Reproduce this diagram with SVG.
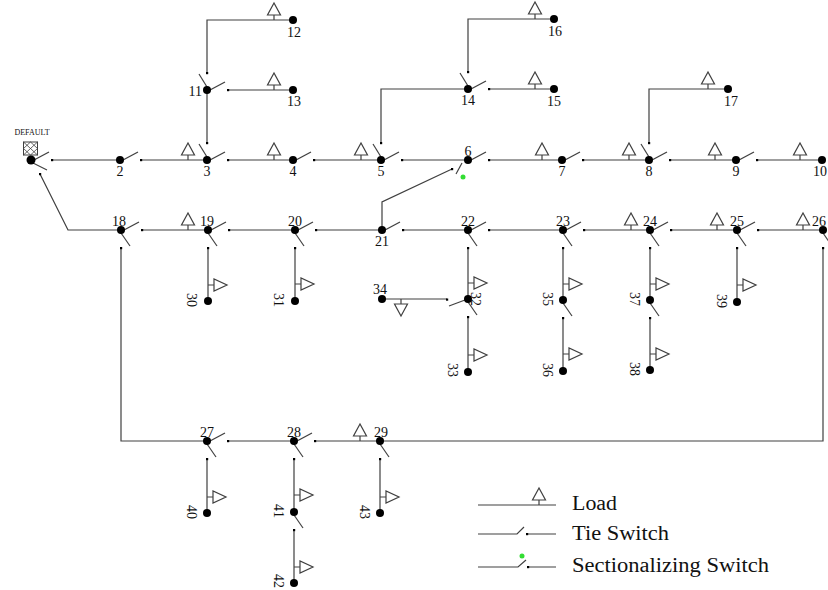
<svg xmlns="http://www.w3.org/2000/svg" xmlns:xlink="http://www.w3.org/1999/xlink" width="828" height="590" viewBox="0 0 828 590">
<style>
.ln{fill:none;stroke:#404040;stroke-width:1.2}
.nd{fill:#000}
.t{font-family:"Liberation Serif","Times New Roman",serif;font-size:14px;fill:#111}
.c{text-anchor:middle}
.lg{font-family:"Liberation Serif","Times New Roman",serif;font-size:20px;fill:#111}
</style>
<defs>
<g id="ldU"><path class="ln" d="M0 0V-5M-6.5 -5H6.5L0 -17Z" fill="#fff"/></g>
<g id="ldR"><path class="ln" d="M0 0H6M6 -6V6L19 0Z" fill="#fff"/></g>
<g id="ldD"><path class="ln" d="M0 0V5M-6.5 5H6.5L0 17Z" fill="#fff"/></g>
<g id="swR"><path class="ln" d="M3 0L18 -8"/><rect x="20" y="-1" width="2.2" height="2.2" fill="#000"/></g>
<g id="swU"><path class="ln" d="M0 -3L-8 -16"/><rect x="-1" y="-18" width="2.2" height="2.2" fill="#000"/></g>
<g id="swD"><path class="ln" d="M0 3L9 16"/><rect x="-1" y="17" width="2.2" height="2.2" fill="#000"/></g>
<g id="swL"><path class="ln" d="M-3 1L-19 7"/><rect x="-22" y="-0.5" width="2.2" height="2.2" fill="#000"/></g>
</defs>

<g id="connectors">
<path class="ln" d="M52 160H120M141 160H207M228 160H293M314 160H381M402 160H468M489 160H562M583 160H649M670 160H736M757 160H822"/>
<path class="ln" d="M207 143V90M207 73V20H293M228 90H293"/>
<path class="ln" d="M381 143V89H468M468 72V19H554M489 89H554"/>
<path class="ln" d="M649 143V89H728"/>
<path class="ln" d="M40 174L68 230H121"/>
<path class="ln" d="M142 230H208M229 230H295M316 230H382M403 230H468M489 230H563M584 230H650M671 230H737M758 230H823"/>
<path class="ln" d="M382 230V202L452 169"/>
<rect x="451" y="168" width="2.2" height="2.2" fill="#000"/>
<path class="ln" d="M121 248V441H207M228 441H294M315 441H823V248"/>
<path class="ln" d="M208 248V301M295 248V301"/>
<path class="ln" d="M468 248V299M468 317V372M382 299H447"/>
<path class="ln" d="M563 248V300M563 318V371M650 248V300M650 318V370M737 248V302"/>
<path class="ln" d="M207 459V513M294 459V512M294 530V583M380 459V513"/>
</g>

<g id="switches">
<use xlink:href="#swR" x="31" y="160"/>
<use xlink:href="#swR" x="120" y="160"/>
<use xlink:href="#swR" x="207" y="160"/>
<use xlink:href="#swR" x="293" y="160"/>
<use xlink:href="#swR" x="381" y="160"/>
<use xlink:href="#swR" x="468" y="160"/>
<use xlink:href="#swR" x="562" y="160"/>
<use xlink:href="#swR" x="649" y="160"/>
<use xlink:href="#swR" x="736" y="160"/>
<use xlink:href="#swR" x="207" y="90"/>
<use xlink:href="#swR" x="468" y="89"/>
<use xlink:href="#swR" x="121" y="230"/>
<use xlink:href="#swR" x="208" y="230"/>
<use xlink:href="#swR" x="295" y="230"/>
<use xlink:href="#swR" x="382" y="230"/>
<use xlink:href="#swR" x="468" y="230"/>
<use xlink:href="#swR" x="563" y="230"/>
<use xlink:href="#swR" x="650" y="230"/>
<use xlink:href="#swR" x="737" y="230"/>
<use xlink:href="#swR" x="207" y="441"/>
<use xlink:href="#swR" x="294" y="441"/>
<use xlink:href="#swU" x="207" y="160"/>
<use xlink:href="#swU" x="207" y="90"/>
<use xlink:href="#swU" x="381" y="160"/>
<use xlink:href="#swU" x="468" y="89"/>
<use xlink:href="#swU" x="649" y="160"/>
<use xlink:href="#swD" x="121" y="230"/>
<use xlink:href="#swD" x="208" y="230"/>
<use xlink:href="#swD" x="295" y="230"/>
<use xlink:href="#swD" x="468" y="230"/>
<use xlink:href="#swD" x="563" y="230"/>
<use xlink:href="#swD" x="650" y="230"/>
<use xlink:href="#swD" x="737" y="230"/>
<use xlink:href="#swD" x="823" y="230"/>
<use xlink:href="#swD" x="468" y="299"/>
<use xlink:href="#swD" x="563" y="300"/>
<use xlink:href="#swD" x="650" y="300"/>
<use xlink:href="#swD" x="207" y="441"/>
<use xlink:href="#swD" x="294" y="441"/>
<use xlink:href="#swD" x="380" y="441"/>
<use xlink:href="#swD" x="294" y="512"/>
<use xlink:href="#swL" x="468" y="299"/>
<path class="ln" d="M33 163L47 170"/>
<rect x="39" y="173" width="2.2" height="2.2" fill="#000"/>
<path class="ln" d="M456 174L462 163"/>
<circle cx="463" cy="177" r="2.5" fill="#33dd33"/>
</g>

<g id="loads">
<use xlink:href="#ldU" x="188" y="160"/>
<use xlink:href="#ldU" x="274" y="160"/>
<use xlink:href="#ldU" x="361" y="160"/>
<use xlink:href="#ldU" x="542" y="160"/>
<use xlink:href="#ldU" x="629" y="160"/>
<use xlink:href="#ldU" x="715" y="160"/>
<use xlink:href="#ldU" x="800" y="160"/>
<use xlink:href="#ldU" x="274" y="20"/>
<use xlink:href="#ldU" x="274" y="90"/>
<use xlink:href="#ldU" x="535" y="19"/>
<use xlink:href="#ldU" x="535" y="89"/>
<use xlink:href="#ldU" x="708" y="89"/>
<use xlink:href="#ldU" x="188" y="230"/>
<use xlink:href="#ldU" x="631" y="230"/>
<use xlink:href="#ldU" x="717" y="230"/>
<use xlink:href="#ldU" x="803" y="230"/>
<use xlink:href="#ldU" x="360" y="441"/>
<use xlink:href="#ldR" x="208" y="285"/>
<use xlink:href="#ldR" x="295" y="284"/>
<use xlink:href="#ldR" x="468" y="283"/>
<use xlink:href="#ldR" x="468" y="355"/>
<use xlink:href="#ldR" x="563" y="284"/>
<use xlink:href="#ldR" x="563" y="354"/>
<use xlink:href="#ldR" x="650" y="284"/>
<use xlink:href="#ldR" x="650" y="354"/>
<use xlink:href="#ldR" x="737" y="285"/>
<use xlink:href="#ldR" x="207" y="497"/>
<use xlink:href="#ldR" x="294" y="495"/>
<use xlink:href="#ldR" x="294" y="567"/>
<use xlink:href="#ldR" x="380" y="497"/>
<use xlink:href="#ldD" x="401" y="299"/>
</g>

<g id="node-default">
<text x="32" y="135" text-anchor="middle" style="font-family:'Liberation Serif',serif;font-size:8px;fill:#111">DEFAULT</text>
<rect x="23.5" y="142" width="14" height="13" fill="#fff" stroke="#404040" stroke-width="1"/>
<path d="M23.5 142L37.5 155M37.5 142L23.5 155M23.5 148.5L30.5 142L37.5 148.5L30.5 155Z" fill="none" stroke="#404040" stroke-width="0.8"/>
<circle class="nd" cx="31" cy="160" r="4.5"/>
</g>
<g id="node-2"><circle class="nd" cx="120" cy="160" r="4"/><text class="t c" x="120" y="176">2</text></g>
<g id="node-3"><circle class="nd" cx="207" cy="160" r="4"/><text class="t c" x="207" y="176">3</text></g>
<g id="node-4"><circle class="nd" cx="293" cy="160" r="4"/><text class="t c" x="293" y="176">4</text></g>
<g id="node-5"><circle class="nd" cx="381" cy="160" r="4"/><text class="t c" x="381" y="176">5</text></g>
<g id="node-6"><circle class="nd" cx="468" cy="160" r="4"/><text class="t c" x="468" y="156">6</text></g>
<g id="node-7"><circle class="nd" cx="562" cy="160" r="4"/><text class="t c" x="562" y="176">7</text></g>
<g id="node-8"><circle class="nd" cx="649" cy="160" r="4"/><text class="t c" x="649" y="176">8</text></g>
<g id="node-9"><circle class="nd" cx="736" cy="160" r="4"/><text class="t c" x="736" y="176">9</text></g>
<g id="node-10"><circle class="nd" cx="822" cy="160" r="4"/><text class="t c" x="820" y="176">10</text></g>
<g id="node-11"><circle class="nd" cx="207" cy="90" r="4"/><text class="t" x="202" y="96" text-anchor="end">11</text></g>
<g id="node-12"><circle class="nd" cx="293" cy="20" r="4"/><text class="t c" x="294" y="37">12</text></g>
<g id="node-13"><circle class="nd" cx="293" cy="90" r="4"/><text class="t c" x="294" y="106">13</text></g>
<g id="node-14"><circle class="nd" cx="468" cy="89" r="4"/><text class="t c" x="468" y="105">14</text></g>
<g id="node-15"><circle class="nd" cx="554" cy="89" r="4"/><text class="t c" x="554" y="106">15</text></g>
<g id="node-16"><circle class="nd" cx="554" cy="19" r="4"/><text class="t c" x="555" y="36">16</text></g>
<g id="node-17"><circle class="nd" cx="728" cy="89" r="4"/><text class="t c" x="731" y="106">17</text></g>
<g id="node-18"><circle class="nd" cx="121" cy="230" r="4"/><text class="t c" x="119" y="226">18</text></g>
<g id="node-19"><circle class="nd" cx="208" cy="230" r="4"/><text class="t c" x="207" y="226">19</text></g>
<g id="node-20"><circle class="nd" cx="295" cy="230" r="4"/><text class="t c" x="295" y="226">20</text></g>
<g id="node-21"><circle class="nd" cx="382" cy="230" r="4"/><text class="t c" x="382" y="246">21</text></g>
<g id="node-22"><circle class="nd" cx="468" cy="230" r="4"/><text class="t c" x="468" y="226">22</text></g>
<g id="node-23"><circle class="nd" cx="563" cy="230" r="4"/><text class="t c" x="563" y="226">23</text></g>
<g id="node-24"><circle class="nd" cx="650" cy="230" r="4"/><text class="t c" x="650" y="226">24</text></g>
<g id="node-25"><circle class="nd" cx="737" cy="230" r="4"/><text class="t c" x="737" y="226">25</text></g>
<g id="node-26"><circle class="nd" cx="823" cy="230" r="4"/><text class="t c" x="819" y="226">26</text></g>
<g id="node-27"><circle class="nd" cx="207" cy="441" r="4"/><text class="t c" x="207" y="437">27</text></g>
<g id="node-28"><circle class="nd" cx="294" cy="441" r="4"/><text class="t c" x="294" y="437">28</text></g>
<g id="node-29"><circle class="nd" cx="380" cy="441" r="4"/><text class="t c" x="381" y="437">29</text></g>
<g id="node-30"><circle class="nd" cx="208" cy="301" r="4"/><text class="t c" transform="translate(187,300) rotate(90)">30</text></g>
<g id="node-31"><circle class="nd" cx="295" cy="301" r="4"/><text class="t c" transform="translate(274,300) rotate(90)">31</text></g>
<g id="node-32"><circle class="nd" cx="468" cy="299" r="4"/><text class="t c" transform="translate(471,299) rotate(90)">32</text></g>
<g id="node-33"><circle class="nd" cx="468" cy="372" r="4"/><text class="t c" transform="translate(448,370) rotate(90)">33</text></g>
<g id="node-34"><circle class="nd" cx="382" cy="299" r="4"/><text class="t c" x="380" y="294">34</text></g>
<g id="node-35"><circle class="nd" cx="563" cy="300" r="4"/><text class="t c" transform="translate(543,299) rotate(90)">35</text></g>
<g id="node-36"><circle class="nd" cx="563" cy="371" r="4"/><text class="t c" transform="translate(543,370) rotate(90)">36</text></g>
<g id="node-37"><circle class="nd" cx="650" cy="300" r="4"/><text class="t c" transform="translate(630,299) rotate(90)">37</text></g>
<g id="node-38"><circle class="nd" cx="650" cy="370" r="4"/><text class="t c" transform="translate(630,369) rotate(90)">38</text></g>
<g id="node-39"><circle class="nd" cx="737" cy="302" r="4"/><text class="t c" transform="translate(717,301) rotate(90)">39</text></g>
<g id="node-40"><circle class="nd" cx="207" cy="513" r="4"/><text class="t c" transform="translate(187,512) rotate(90)">40</text></g>
<g id="node-41"><circle class="nd" cx="294" cy="512" r="4"/><text class="t c" transform="translate(274,511) rotate(90)">41</text></g>
<g id="node-42"><circle class="nd" cx="294" cy="583" r="4"/><text class="t c" transform="translate(274,581) rotate(90)">42</text></g>
<g id="node-43"><circle class="nd" cx="380" cy="513" r="4"/><text class="t c" transform="translate(360,512) rotate(90)">43</text></g>

<g id="legend">
<path class="ln" d="M478 505H556"/>
<use xlink:href="#ldU" x="539" y="505"/>
<text class="lg" x="572" y="510" textLength="45" lengthAdjust="spacingAndGlyphs">Load</text>
<path class="ln" d="M478 534H517L524 527M528 534H556"/>
<rect x="526" y="533" width="2.2" height="2.2" fill="#000"/>
<text class="lg" x="572" y="540" textLength="97" lengthAdjust="spacingAndGlyphs">Tie Switch</text>
<path class="ln" d="M478 567H518L526 560M529 567H556"/>
<rect x="527" y="566" width="2.2" height="2.2" fill="#000"/>
<circle cx="522" cy="556" r="2.5" fill="#33dd33"/>
<text class="lg" x="572" y="572" textLength="197" lengthAdjust="spacingAndGlyphs">Sectionalizing Switch</text>
</g>
</svg>
